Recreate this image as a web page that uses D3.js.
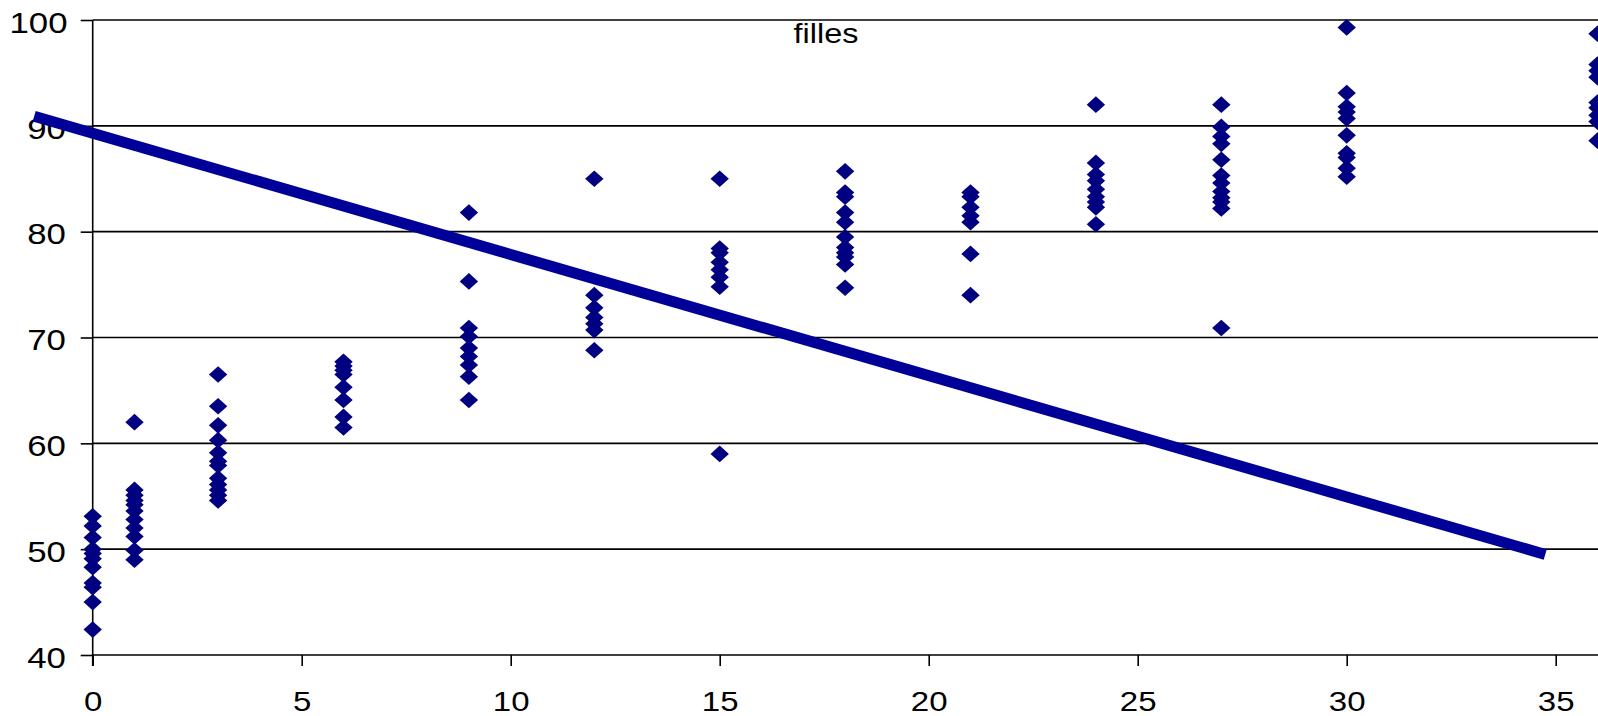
<!DOCTYPE html>
<html>
<head>
<meta charset="utf-8">
<script src="https://cdn.jsdelivr.net/npm/d3@7"></script>
<style>
  body { margin: 0; background: #fff; }
  text { font-family: Arial, "Liberation Sans", sans-serif; fill: #000; }
  .stretch { transform-box: fill-box; transform-origin: center; transform: scaleX(1.2); }
</style>
</head>
<body>
<div id="chart"></div>
<script>
// ages (x) and heights (y), one array of values per age
const ages = [0, 1, 3, 6, 9, 12, 15, 18, 21, 24, 27, 30, 36];
const heights = [
  [53.1, 52.2, 51.1, 50.0, 49.6, 49.1, 48.3, 46.8, 46.4, 45.0, 42.4],
  [62.0, 55.6, 55.1, 54.6, 54.2, 53.6, 52.8, 52.0, 51.2, 49.9, 49.0],
  [66.5, 63.5, 61.7, 60.3, 59.1, 58.3, 57.9, 56.7, 56.1, 55.6, 55.1, 54.6],
  [67.7, 67.3, 66.9, 66.5, 65.3, 64.1, 62.5, 61.5],
  [81.8, 75.3, 70.9, 70.1, 69.0, 68.2, 67.4, 66.3, 64.1],
  [85.0, 74.0, 72.8, 71.9, 71.3, 70.7, 68.8],
  [85.0, 78.4, 78.0, 77.1, 76.4, 75.7, 74.8, 59.0],
  [85.7, 83.7, 83.3, 81.8, 80.9, 79.5, 78.5, 78.0, 77.6, 76.9, 74.7],
  [83.7, 83.3, 82.3, 81.5, 80.9, 77.9, 74.0],
  [92.0, 86.5, 85.4, 84.8, 84.0, 83.3, 82.8, 82.3, 80.7],
  [92.0, 89.9, 89.0, 88.3, 86.8, 85.3, 84.6, 83.8, 83.2, 82.8, 82.2, 70.9],
  [99.3, 93.1, 91.8, 91.3, 90.7, 89.1, 87.4, 87.0, 86.0, 85.2],
  [98.7, 95.8, 95.2, 94.6, 92.2, 91.7, 91.0, 90.4, 88.6]
];
// the straight line drawn over the points
const lineX = [-1.4, 34.75];
const lineY = [90.9, 49.5];

const xTicks = [0, 5, 10, 15, 20, 25, 30, 35];
const yTicks = [40, 50, 60, 70, 80, 90, 100];
const title = "filles";

const width = 1598, height = 716;
const margin = { top: 20, right: 0.5, bottom: 61, left: 92.7 };

const svg = d3.select("#chart")
  .append("svg")
  .attr("width", width)
  .attr("height", height);

const x = d3.scaleLinear()
  .domain([0, 36])
  .range([margin.left, width - margin.right]);

const y = d3.scaleLinear()
  .domain([40, 100])
  .range([height - margin.bottom, margin.top]);

// horizontal grid lines
svg.append("g")
  .selectAll("line")
  .data(yTicks)
  .join("line")
  .attr("x1", margin.left)
  .attr("x2", width)
  .attr("y1", d => y(d))
  .attr("y2", d => y(d))
  .style("stroke", "#000")
  .style("stroke-width", 1.6);

// y axis
const yAxis = svg.append("g")
  .attr("transform", `translate(${margin.left},0)`)
  .call(d3.axisLeft(y).tickValues(yTicks).tickSize(12).tickPadding(18));
yAxis.select(".domain").remove();
yAxis.append("line")
  .attr("y1", y(100))
  .attr("y2", y(40) + 11)
  .style("stroke", "#000")
  .style("stroke-width", 1.6);

// x axis
const xAxis = svg.append("g")
  .attr("transform", `translate(0,${y(40)})`)
  .call(d3.axisBottom(x).tickValues(xTicks).tickSize(11).tickPadding(25));
xAxis.select(".domain").remove();

svg.selectAll(".tick line")
  .style("stroke", "#000")
  .style("stroke-width", 1.6);
svg.selectAll(".tick text")
  .attr("class", "stretch")
  .style("font-family", "Arial, 'Liberation Sans', sans-serif");
yAxis.selectAll(".tick text").attr("dy", "0.42em").style("font-size", "29px");
xAxis.selectAll(".tick text").attr("dy", "0.71em").style("font-size", "27.5px");

// points
const points = ages.flatMap((a, i) => heights[i].map(h => ({ x: a, y: h })));
const diamond = "M0,-8.3L9.2,0L0,8.3L-9.2,0Z";

svg.append("g")
  .selectAll("path")
  .data(points)
  .join("path")
  .attr("d", diamond)
  .attr("transform", d => `translate(${x(d.x)},${y(d.y)})`)
  .style("fill", "#000080");

// line
const line = d3.line()
  .x(d => x(d[0]))
  .y(d => y(d[1]));

svg.append("path")
  .datum(d3.zip(lineX, lineY))
  .attr("d", line)
  .style("fill", "none")
  .style("stroke", "#000099")
  .style("stroke-width", 11)
  .style("stroke-linecap", "butt");

// title
svg.append("text")
  .attr("class", "stretch")
  .attr("x", 826)
  .attr("y", 43)
  .attr("text-anchor", "middle")
  .style("font-size", "27px")
  .text(title);
</script>
</body>
</html>
